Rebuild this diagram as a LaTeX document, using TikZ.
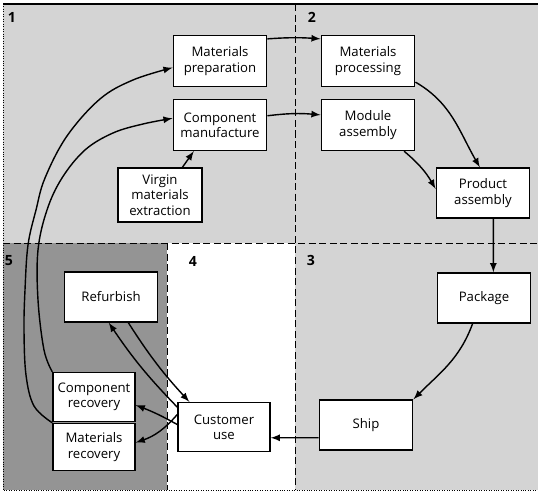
\documentclass[tikz,border=0pt]{standalone}
\usepackage{fontspec}
\setmainfont{Open Sans}
\usetikzlibrary{arrows}

\begin{document}
\begin{tikzpicture}[x=0.02cm, y=-0.02cm, >=latex, thick,
    box/.style={draw, fill=white, align=center, minimum width=1.87cm, minimum height=1.02cm, inner sep=1pt, font=\fontsize{7.5}{8.7}\selectfont},
    smallbox/.style={box, minimum width=1.64cm, minimum height=0.98cm},
    zone/.style={font=\bfseries\fontsize{8}{8}\selectfont, inner sep=0pt},
    divider/.style={thin, dash pattern=on 4pt off 2pt}]
    \useasboundingbox (0,0) rectangle (538,492);

    % shaded stages
    \fill[black!17] (3,4) rectangle (538,490);
    \fill[white] (167,243) rectangle (295,490);
    \fill[black!42] (3,243) rectangle (167,490);
    \draw[line width=1pt] (3,4) -- (538,4);
    \draw[thin, densely dotted] (3,4) -- (3,490) -- (538,490);
    \draw[divider] (295,4) -- (295,490);
    \draw[divider] (3,243) -- (538,243);
    \draw[divider] (167,243) -- (167,490);

    \node[zone] (z1) at (12,17) {1};
    \node[zone] (z2) at (312,17) {2};
    \node[zone] (z3) at (311,260) {3};
    \node[zone] (z4) at (193,261) {4};
    \node[zone] (z5) at (9,261) {5};

    \node[box] (mprep) at (220,61) {Materials\\preparation};
    \node[box] (cman) at (220,125) {Component\\manufacture};
    \node[box, minimum width=1.68cm, minimum height=1.08cm] (virg) at (160,195) {Virgin\\materials\\extraction};
    \node[box] (mproc) at (368,61) {Materials\\processing};
    \node[box] (modasm) at (368,125) {Module\\assembly};
    \node[box, minimum height=1cm] (prod) at (483,193) {Product\\assembly};
    \node[box, minimum height=1cm] (pack) at (484,298) {Package};
    \node[box, minimum height=1cm] (ship) at (366,425) {Ship};
    \node[box, minimum width=1.84cm, minimum height=0.98cm] (cuse) at (224,427) {Customer\\use};
    \node[box, minimum height=1cm] (refurb) at (111,297) {Refurbish};
    \node[smallbox] (crec) at (94,397) {Component\\recovery};
    \node[smallbox, minimum height=0.94cm] (mrec) at (94,447) {Materials\\recovery};

    \path[->]
    (mprep.25) edge[bend left=4] (mproc.155)
        (cman.11) edge[bend left=6] (modasm.168)
    (virg.51) edge (cman.225)
        (mproc.336) edge[out=-30, in=120] (prod.97)
    (modasm.324) edge[out=-40, in=120] (prod.175)
        (prod.292) edge (pack.70)
    (pack.246) edge[out=-110, in=45] (ship.north east)
        (ship.195) edge (cuse.-13)
    (refurb.304) edge[bend right=5] (cuse.144)
        (cuse.157) edge[bend left=5] (refurb.265)
    (cuse.177) edge[bend right=4] (crec.-11)
        (cuse.165) edge[bend left=15] (mrec.6);

    % recovery loops
    \draw[->] plot[smooth, tension=0.6] coordinates {(crec.north west) (44,350) (38,300) (38,250) (47,210) (62,178) (85,150) (113,133) (143,124) (cman.172)};
    \draw[->] plot[smooth, tension=0.6] coordinates {(mrec.north west) (34,406) (26,375) (24,330) (25,290) (28,245) (36,210) (45,178) (67,136) (100,99) (133,80) (mprep.188)};
\end{tikzpicture}
\end{document}
